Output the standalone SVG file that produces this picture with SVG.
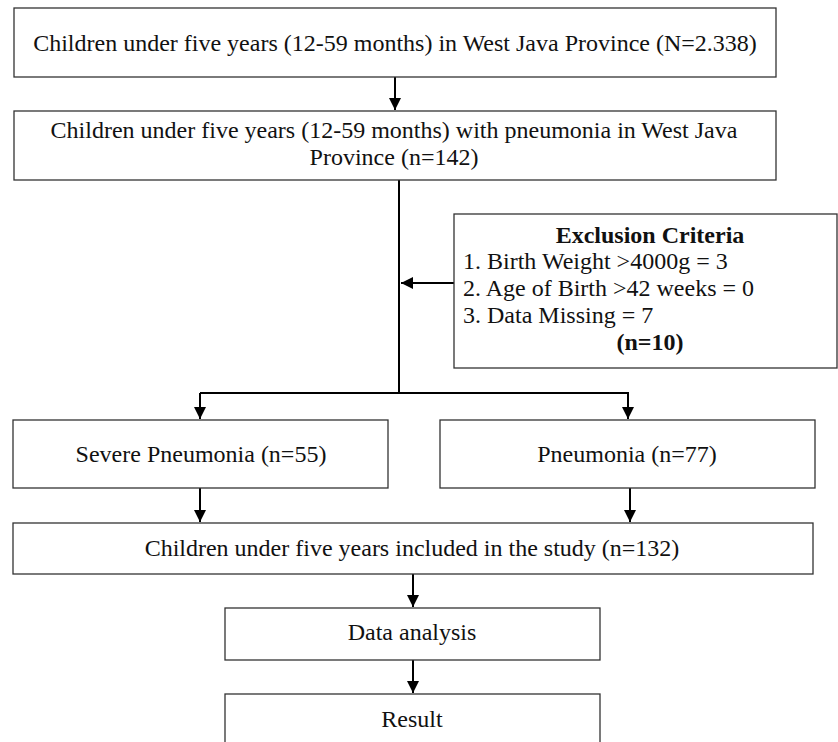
<svg xmlns="http://www.w3.org/2000/svg" width="838" height="742" viewBox="0 0 838 742">
<style>
.box{fill:#fff;stroke:#333;stroke-width:1.3}
.t{font-family:"Liberation Serif","Times New Roman",serif;font-size:24px;fill:#111;text-anchor:middle}
.l{text-anchor:start}
.b{font-weight:bold}
.c{stroke:#000;stroke-width:2;fill:none}
</style>
<defs>
<marker id="ah2" viewBox="0 0 12 12" refX="12" refY="6" markerWidth="12" markerHeight="12" markerUnits="userSpaceOnUse" orient="auto">
<path d="M0,0 L12,6 L0,12 Z" fill="#000"/>
</marker>
</defs>
<rect width="838" height="742" fill="#fff"/>
<g id="connectors">
<line class="c" x1="395" y1="77" x2="395" y2="110" marker-end="url(#ah2)"/>
<polyline class="c" points="399,180 399,393"/>
<line class="c" x1="454" y1="283" x2="401" y2="283" marker-end="url(#ah2)"/>
<polyline class="c" points="200,393 628,393 628,419" marker-end="url(#ah2)"/>
<line class="c" x1="200" y1="393" x2="200" y2="419" marker-end="url(#ah2)"/>
<line class="c" x1="200" y1="488" x2="200" y2="522" marker-end="url(#ah2)"/>
<line class="c" x1="630" y1="488" x2="630" y2="522" marker-end="url(#ah2)"/>
<line class="c" x1="413" y1="574" x2="413" y2="607" marker-end="url(#ah2)"/>
<line class="c" x1="413" y1="660" x2="413" y2="693" marker-end="url(#ah2)"/>
</g>
<g id="n1">
<rect class="box" x="14" y="8" width="762" height="69"/>
<text class="t" x="395" y="51">Children under five years (12-59 months) in West Java Province (N=2.338)</text>
</g>
<g id="n2">
<rect class="box" x="14" y="111" width="762" height="69"/>
<text class="t" x="394" y="138">Children under five years (12-59 months) with pneumonia in West Java</text>
<text class="t" x="394" y="165">Province (n=142)</text>
</g>
<g id="exclusion">
<rect class="box" x="454" y="214" width="383" height="154"/>
<text class="t b" x="650" y="243">Exclusion Criteria</text>
<text class="t l" x="463" y="269">1. Birth Weight &gt;4000g = 3</text>
<text class="t l" x="463" y="296">2. Age of Birth &gt;42 weeks = 0</text>
<text class="t l" x="463" y="323">3. Data Missing = 7</text>
<text class="t b" x="650" y="350">(n=10)</text>
</g>
<g id="severe">
<rect class="box" x="13" y="420" width="375" height="68"/>
<text class="t" x="201" y="462">Severe Pneumonia (n=55)</text>
</g>
<g id="pneumonia">
<rect class="box" x="440" y="420" width="375" height="68"/>
<text class="t" x="627" y="462">Pneumonia (n=77)</text>
</g>
<g id="included">
<rect class="box" x="13" y="523" width="800" height="51"/>
<text class="t" x="412" y="556">Children under five years included in the study (n=132)</text>
</g>
<g id="analysis">
<rect class="box" x="225" y="608" width="375" height="52"/>
<text class="t" x="412" y="640">Data analysis</text>
</g>
<g id="result">
<rect class="box" x="225" y="694" width="375" height="60"/>
<text class="t" x="412" y="727">Result</text>
</g>
</svg>
